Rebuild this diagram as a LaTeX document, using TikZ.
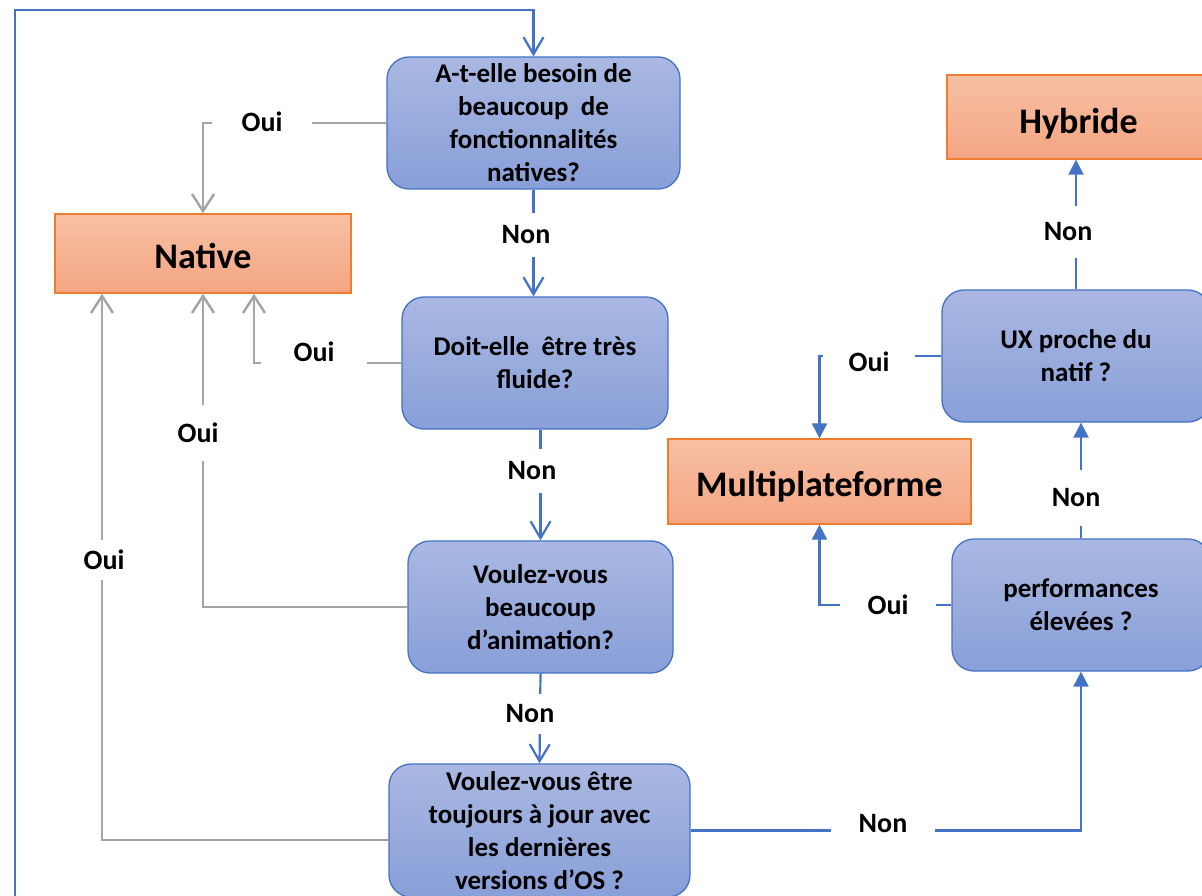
\documentclass[tikz,border=0pt]{standalone}
\usepackage{fontspec}
\setmainfont{Carlito}
\usepackage{tikz}
\usetikzlibrary{positioning}
\usetikzlibrary{arrows.meta}
\usetikzlibrary{calc}
\definecolor{qblue}{HTML}{4472C4}
\definecolor{qtop}{HTML}{AAB8E2}
\definecolor{qbot}{HTML}{889FD8}
\definecolor{rtop}{HTML}{F7C0A4}
\definecolor{rbot}{HTML}{F4A582}
\definecolor{rline}{HTML}{ED7D31}
\definecolor{ggray}{HTML}{A5A5A5}
\tikzstyle{qnode}=[draw=qblue,line width=1.3pt,rounded corners=22pt,top color=qtop,bottom color=qbot,align=center,inner sep=0pt,font=\bfseries\fontsize{27}{33}\selectfont]
\tikzstyle{rnode}=[draw=rline,line width=1.3pt,top color=rtop,bottom color=rbot,inner sep=0pt,text depth=0pt,font=\bfseries\fontsize{36}{40}\selectfont]
\tikzstyle{lbl}=[fill=white,inner sep=0pt,font=\bfseries\fontsize{28}{30}\selectfont]
\tikzstyle{barr}=[-{Straight Barb[length=17pt,width=20pt]},line width=2.2pt,color=qblue]
\tikzstyle{garr}=[-{Straight Barb[length=17pt,width=22pt]},line width=2.5pt,color=ggray]
\tikzstyle{tarr}=[-{Triangle[length=15pt,width=15pt]},line width=2.2pt,color=qblue]

\begin{document}
\begin{tikzpicture}[x=1pt,y=-1pt]
	\useasboundingbox (0,0) rectangle (1202,896);
	\clip (0,0) rectangle (1202,896);
	
	% Questions
	\node[qnode,minimum width=293,minimum height=132] (need) at (533.5,123) {A-t-elle besoin de\\beaucoup \ de\\fonctionnalités\\natives?};
	\node[qnode,minimum width=266,minimum height=132] (fluid) at (535,363) {Doit-elle \ être très\\fluide?};
	\node[qnode,minimum width=265,minimum height=132] (anim) at (540.5,607) {Voulez-vous\\beaucoup\\d’animation?};
	\node[qnode,minimum width=301,minimum height=133] (update) at (539.5,830.5) {Voulez-vous être\\toujours à jour avec\\les dernières\\versions d’OS ?};
	\node[qnode,minimum width=268,minimum height=132] (ux) at (1076,356) {UX proche du\\natif ?};
	\node[qnode,minimum width=258,minimum height=132] (perf) at (1081,605) {performances\\élevées ?};
	
	% Answers
	\node[rnode,minimum width=296,minimum height=79,text height=29pt] (native) at (203,253.5) {Native};
	\node[rnode,minimum width=263,minimum height=84,text height=33pt] (hybrid) at (1078.5,117) {Hybride};
	\node[rnode,minimum width=303,minimum height=85,text height=30pt] (multi) at (819.5,481.5) {Multiplateforme};
	
	% Non path
	\draw[barr] (update.south) -- ++(0,20) -| (15,10) -| (need.north);
	\draw[barr] (need.south) -- (need.south |- fluid.north);
	\draw[barr] (anim.north |- fluid.south) -- (anim.north);
	\draw[barr] (anim.south) -- (update.north);
	\draw[tarr] (update.east) -| (perf.south);
	\draw[tarr] (perf.north) -- (perf.north |- ux.south);
	\draw[tarr] (ux.north) -- (ux.north |- hybrid.south);
	
	% Oui paths
	\draw[garr] (need.west) -| (native.north);
	\draw[garr] (fluid.west) -| ([xshift=51pt]native.south);
	\draw[garr] (anim.west) -| (native.south);
	\draw[garr] ([yshift=-9.5pt]update.west) -| ([xshift=-101pt]native.south);
	\draw[tarr] (ux.west) -| (multi.north);
	\draw[tarr] (perf.west) -| (multi.south);
	
	% Labels
	\node[lbl,minimum width=100] (oui1) at (262,122) {Oui};
	\node[lbl,minimum height=44] (non1) at (526,235) {Non};
	\node[lbl,minimum width=106,minimum height=40] (oui2) at (314,352) {Oui};
	\node[lbl,minimum height=44] (non2) at (532,471) {Non};
	\node[lbl,minimum height=56] (oui3) at (198,433) {Oui};
	\node[lbl,minimum height=40] (oui4) at (104,560) {Oui};
	\node[lbl,minimum height=40] (non3) at (530,714) {Non};
	\node[lbl,minimum width=104] (non4) at (883,824) {Non};
	\node[lbl,minimum height=56] (non5) at (1076,498) {Non};
	\node[lbl,minimum height=52] (non6) at (1068,232) {Non};
	\node[lbl,minimum width=92] (oui5) at (869,362) {Oui};
	\node[lbl,minimum width=96] (oui6) at (888,605) {Oui};
	
\end{tikzpicture}
\end{document}
